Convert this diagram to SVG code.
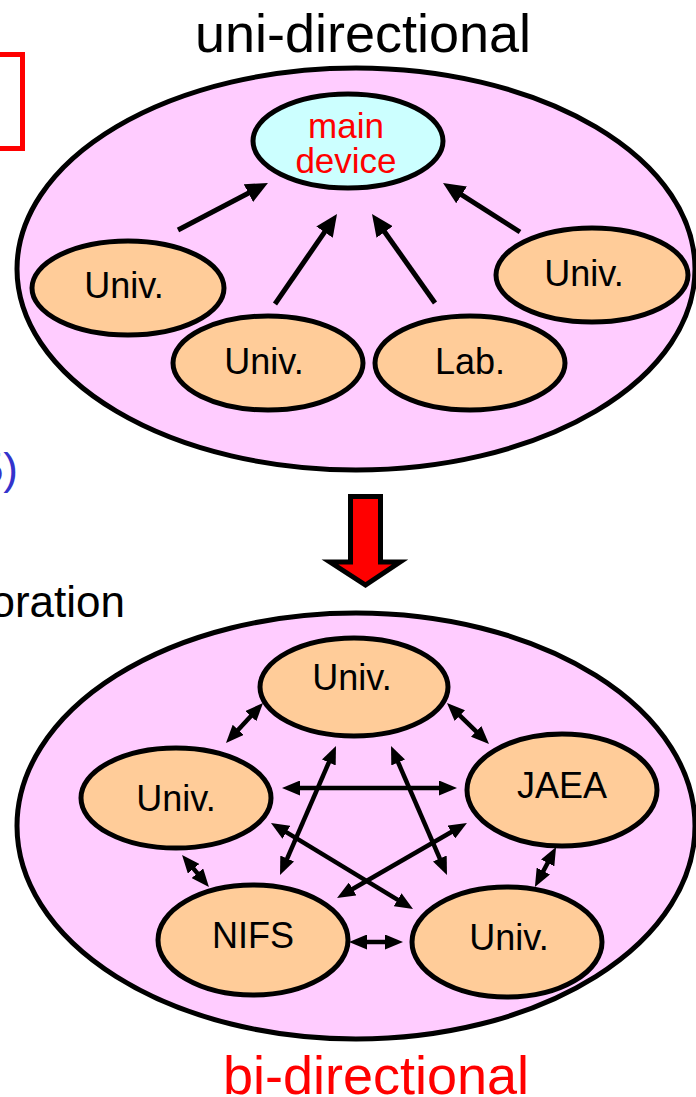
<svg xmlns="http://www.w3.org/2000/svg" width="696" height="1097" viewBox="0 0 696 1097">
<style>
.t{font-family:"Liberation Sans",Arial,sans-serif;text-anchor:middle}
.big{fill:#FFCCFF;stroke:#000;stroke-width:5}
.nd{fill:#FFCC99;stroke:#000;stroke-width:5}
.lbl{font-size:36px;fill:#000}
.a1{stroke:#000;stroke-width:5;fill:none;marker-end:url(#ah)}
.a2{stroke:#000;stroke-width:4.5;fill:none;marker-start:url(#as);marker-end:url(#as)}
</style>
<defs>
<marker id="ah" markerUnits="userSpaceOnUse" markerWidth="22" markerHeight="20" refX="4" refY="10" orient="auto"><path d="M0,0 L22,10 L0,20 z" fill="#000"/></marker>
<marker id="as" markerUnits="userSpaceOnUse" markerWidth="18" markerHeight="15" refX="5" refY="7.5" orient="auto-start-reverse"><path d="M0,0 L18,7.5 L0,15 z" fill="#000"/></marker>
</defs>
<rect x="-10" y="54.5" width="32.5" height="94" fill="none" stroke="#FF0000" stroke-width="5"/>
<text class="t" x="363" y="52" font-size="54">uni-directional</text>
<text x="18" y="484" font-family="Liberation Sans,Arial,sans-serif" font-size="44" fill="#3333CC" text-anchor="end">5)</text>
<text x="125" y="617" font-family="Liberation Sans,Arial,sans-serif" font-size="44" fill="#000" text-anchor="end">oration</text>
<text class="t" x="376" y="1094" font-size="54" fill="#FF0000">bi-directional</text>
<g id="top-group"><ellipse class="big" cx="356" cy="269" rx="339" ry="201"/></g>
<g id="main-device"><ellipse cx="348" cy="141" rx="95" ry="47" fill="#CCFFFF" stroke="#000" stroke-width="5"/><text class="t" x="346" y="138" font-size="35" fill="#FF0000">main</text><text class="t" x="346" y="173" font-size="35" fill="#FF0000">device</text></g>
<g id="t-univ1"><ellipse class="nd" cx="128" cy="288" rx="96" ry="47"/><text class="t lbl" x="124" y="298">Univ.</text></g>
<g id="t-univ2"><ellipse class="nd" cx="268" cy="363" rx="95" ry="47"/><text class="t lbl" x="264" y="374">Univ.</text></g>
<g id="t-lab"><ellipse class="nd" cx="470" cy="363" rx="95" ry="47"/><text class="t lbl" x="470" y="374">Lab.</text></g>
<g id="t-univ3"><ellipse class="nd" cx="592" cy="275" rx="96" ry="47"/><text class="t lbl" x="584" y="286">Univ.</text></g>
<g id="top-connectors">
<line class="a1" x1="178" y1="230" x2="252" y2="191.3"/>
<line class="a1" x1="275" y1="304" x2="326.8" y2="228.8"/>
<line class="a1" x1="435" y1="303" x2="382.4" y2="228.7"/>
<line class="a1" x1="520" y1="232" x2="458.2" y2="192.7"/>
</g>
<g id="big-arrow"><path d="M350.5,496.5 L380.5,496.5 L380.5,562 L400,562 L365.5,585 L330,562 L350.5,562 z" fill="#FF0000" stroke="#000" stroke-width="5" stroke-linejoin="miter"/></g>
<g id="bottom-group"><ellipse class="big" cx="356" cy="826" rx="339" ry="213"/></g>
<g id="b-univ-top"><ellipse class="nd" cx="354" cy="687" rx="94" ry="49"/><text class="t lbl" x="352" y="690">Univ.</text></g>
<g id="b-univ-left"><ellipse class="nd" cx="176" cy="798" rx="95" ry="50"/><text class="t lbl" x="176" y="811">Univ.</text></g>
<g id="b-jaea"><ellipse class="nd" cx="562" cy="790" rx="95" ry="56"/><text class="t lbl" x="562" y="798">JAEA</text></g>
<g id="b-nifs"><ellipse class="nd" cx="253" cy="940" rx="95" ry="55"/><text class="t lbl" x="253" y="948">NIFS</text></g>
<g id="b-univ-right"><ellipse class="nd" cx="507" cy="942" rx="95" ry="55"/><text class="t lbl" x="509" y="950">Univ.</text></g>
<g id="bottom-connectors">
<line class="a2" x1="254.2" y1="712.5" x2="234.8" y2="733.5"/>
<line class="a2" x1="456.3" y1="712.1" x2="479.7" y2="734.9"/>
<line class="a2" x1="295" y1="788" x2="444" y2="788"/>
<line class="a2" x1="330.8" y1="757.9" x2="285.2" y2="863.1"/>
<line class="a2" x1="396.2" y1="757.9" x2="441.8" y2="863.1"/>
<line class="a2" x1="282.1" y1="829.7" x2="401.9" y2="902.3"/>
<line class="a2" x1="455.7" y1="829.5" x2="348.3" y2="891.5"/>
<line class="a2" x1="190.4" y1="864.9" x2="200.6" y2="877.1"/>
<line class="a2" x1="550" y1="858.5" x2="541" y2="875.5"/>
<line class="a2" x1="362" y1="942" x2="390" y2="942"/>
</g>
</svg>
